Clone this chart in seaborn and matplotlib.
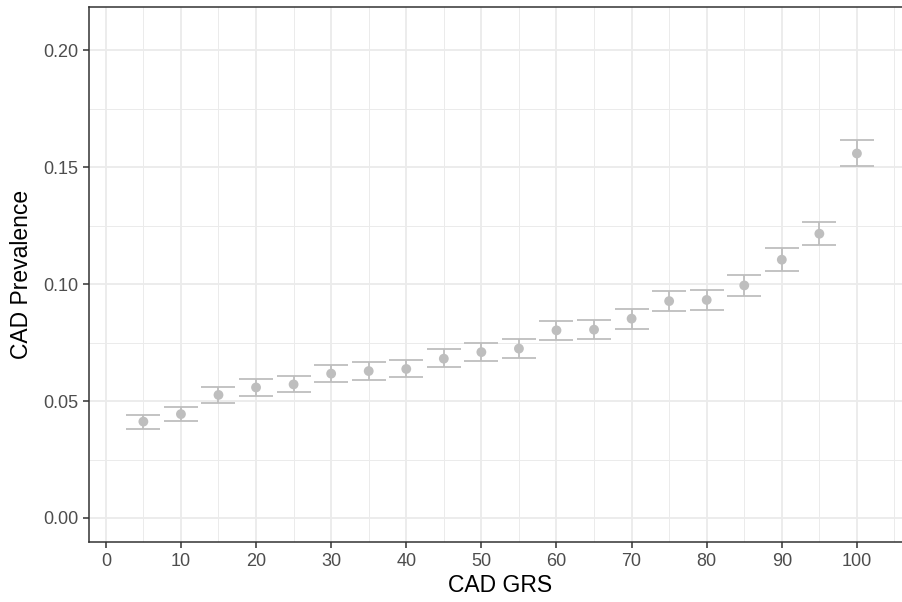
import matplotlib
matplotlib.use("Agg")
import matplotlib.pyplot as plt
import seaborn as sns
import numpy as np
import pandas as pd
from matplotlib.ticker import MultipleLocator

grs = [5, 10, 15, 20, 25, 30, 35, 40, 45, 50, 55, 60, 65, 70, 75, 80, 85, 90, 95, 100]
prev = [0.0412, 0.0444, 0.0526, 0.0558, 0.0571, 0.0617, 0.0628, 0.0637, 0.0681, 0.0709,
        0.0724, 0.0802, 0.0805, 0.0852, 0.0927, 0.0932, 0.0994, 0.1104, 0.1215, 0.1558]
upper = [0.0442, 0.0476, 0.0560, 0.0593, 0.0607, 0.0655, 0.0665, 0.0675, 0.0721, 0.0748,
         0.0764, 0.0842, 0.0846, 0.0893, 0.0971, 0.0976, 0.1038, 0.1152, 0.1266, 0.1614]
lower = [0.0380, 0.0413, 0.0491, 0.0523, 0.0537, 0.0580, 0.0591, 0.0601, 0.0644, 0.0670,
         0.0685, 0.0761, 0.0764, 0.0809, 0.0883, 0.0888, 0.0950, 0.1056, 0.1167, 0.1506]
xticks = [0, 10, 20, 30, 40, 50, 60, 70, 80, 90, 100]
yticks = [0.00, 0.05, 0.10, 0.15, 0.20]

df = pd.DataFrame({"grs": grs, "prev": prev, "upper": upper, "lower": lower})

sns.set_style("white")
plt.rcParams["font.family"] = ["Liberation Sans", "DejaVu Sans"]

fig = plt.figure(figsize=(9.03, 6.02), dpi=100)
ax = fig.add_axes([89.3 / 903, 1 - 542 / 602, (911 - 89.3) / 903, (542 - 7) / 602])

ax.set_xlim(-2.2, 107.2)
ax.set_ylim(-0.01026, 0.2184)

ax.xaxis.set_minor_locator(MultipleLocator(5))
ax.yaxis.set_minor_locator(MultipleLocator(0.025))
ax.set_xticks(xticks)
ax.set_yticks(yticks)
ax.set_yticklabels([f"{v:.2f}" for v in yticks])
ax.grid(which="major", color="#EBEBEB", linewidth=1.3, zorder=0)
ax.grid(which="minor", color="#EBEBEB", linewidth=0.7, zorder=0)
ax.set_axisbelow(True)

col = "#BEBEBE"
yerr = np.array([df["prev"] - df["lower"], df["upper"] - df["prev"]])
ax.errorbar(df["grs"], df["prev"], yerr=yerr, fmt="none", ecolor=col,
            elinewidth=1.3, capsize=11.9, capthick=1.3, zorder=3)
sns.scatterplot(data=df, x="grs", y="prev", ax=ax, color=col, s=50,
                edgecolor="none", zorder=4, legend=False)

for side in ["top", "left", "bottom", "right"]:
    ax.spines[side].set_visible(True)
    ax.spines[side].set_color("#333333")
    ax.spines[side].set_linewidth(1.1)

ax.tick_params(axis="both", which="major", length=4.3, width=1.1, color="#333333",
               labelsize=13, labelcolor="#4D4D4D", direction="out", pad=3.5,
               bottom=True, left=True)
ax.tick_params(which="minor", length=0)

ax.set_xlabel("CAD GRS", fontsize=16.5, color="black", labelpad=3)
ax.set_ylabel("CAD Prevalence", fontsize=16.5, color="black", labelpad=7)

fig.savefig("out.png", dpi=100)
